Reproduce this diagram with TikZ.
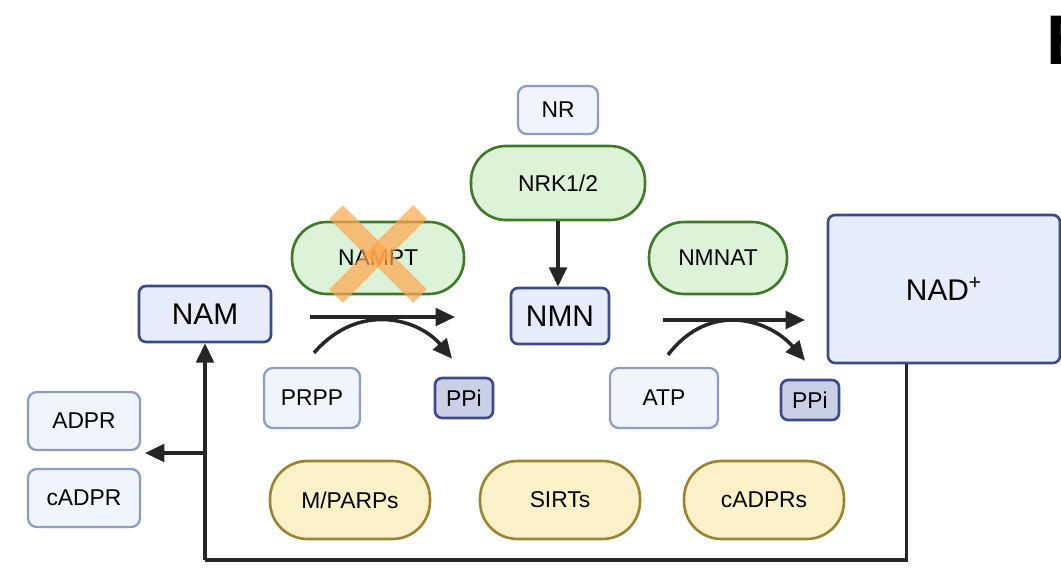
\documentclass[tikz,border=0pt]{standalone}
\usepackage{fontspec}
\setmainfont{Liberation Sans}
\usetikzlibrary{arrows.meta, positioning, calc}
\definecolor{boxblue}{HTML}{F0F4FC}
\definecolor{coreblue}{HTML}{E6ECFA}
\definecolor{boxedge}{HTML}{8C9CC4}
\definecolor{darkedge}{HTML}{3A4A8A}
\definecolor{ppifill}{HTML}{C9D0E6}
\definecolor{enzfill}{HTML}{DDF3D8}
\definecolor{enzedge}{HTML}{3F7A2A}
\definecolor{sinkfill}{HTML}{FBF1C8}
\definecolor{sinkedge}{HTML}{9A8430}
\tikzstyle{metab} = [rectangle, draw=boxedge, fill=boxblue, line width=1.3pt, rounded corners=5pt, text centered, font=\fontsize{13}{15}\selectfont]
\tikzstyle{core} = [rectangle, draw=darkedge, fill=coreblue, line width=1.5pt, rounded corners=4pt, text centered, font=\fontsize{17}{20}\selectfont]
\tikzstyle{ppi} = [rectangle, draw=darkedge, fill=ppifill, line width=1.5pt, rounded corners=4pt, minimum width=1.16cm, minimum height=0.8cm, font=\fontsize{13}{15}\selectfont]
\tikzstyle{enzyme} = [rectangle, draw=enzedge, fill=enzfill, line width=1.5pt, rounded corners=0.7cm, font=\fontsize{13}{15}\selectfont]
\tikzstyle{sink} = [rectangle, draw=sinkedge, fill=sinkfill, line width=1.5pt, rounded corners=0.75cm, minimum width=3.2cm, minimum height=1.56cm, font=\fontsize{13}{15}\selectfont]
\tikzstyle{flow} = [line width=2pt, -{Triangle[length=11pt, width=10pt]}, black!85]

\begin{document}
\begin{tikzpicture}[x=0.02cm, y=-0.02cm]
	\useasboundingbox (0,0) rectangle (1061,585);

	% Salvage route
	\node (nr) [metab, minimum width=1.6cm, minimum height=0.96cm] at (558,110) {NR};
	\node (nrk) [enzyme, minimum width=3.48cm, minimum height=1.48cm] at (558,183) {NRK1/2};
	\node (nmn) [core, minimum width=1.96cm, minimum height=1.12cm] at (560,316) {NMN};
	\node (nam) [core, minimum width=2.64cm, minimum height=1.12cm] at (205,314) {NAM};
	\node (nad) [core, minimum width=4.64cm, minimum height=2.96cm] at (944,289) {NAD\textsuperscript{+}};

	\node (nampt) [enzyme, minimum width=3.44cm, minimum height=1.44cm] at (378,258) {NAMPT};
	\node (nmnat) [enzyme, minimum width=2.76cm, minimum height=1.44cm] at (718,258) {NMNAT};

	% Co-substrates
	\node (prpp) [metab, minimum width=1.92cm, minimum height=1.2cm] at (312,398) {PRPP};
	\node (ppia) [ppi] at (464,398) {PPi};
	\node (atp) [metab, minimum width=2.16cm, minimum height=1.2cm] at (664,398) {ATP};
	\node (ppib) [ppi] at (810,400) {PPi};

	\node (adpr) [metab, minimum width=2.24cm, minimum height=1.16cm] at (84,421) {ADPR};
	\node (cadpr) [metab, minimum width=2.24cm, minimum height=1.16cm] at (84,498) {cADPR};

	% Consumers
	\node (parp) [sink] at (350,500) {M/PARPs};
	\node (sirt) [sink] at (560,500) {SIRTs};
	\node (cd38) [sink] at (764,500) {cADPRs};

	% Blocked enzyme
	\draw[orange!70, opacity=0.7, line width=11pt] ($(nampt)+(-42,-46)$) -- ($(nampt)+(42,38)$);
	\draw[orange!70, opacity=0.7, line width=11pt] ($(nampt)+(42,-46)$) -- ($(nampt)+(-42,38)$);

	% Reactions
	\coordinate (r1a) at (310,317);
	\coordinate (r1b) at (455,317);
	\coordinate (r2a) at (663,320);
	\coordinate (r2b) at (805,320);
	\draw[flow] (r1a) -- (r1b);
	\draw[flow] (r2a) -- (r2b);
	\draw[flow] ($(prpp.north)+(2,-14)$) .. controls (360,300) and (420,320) .. ($(ppia.north)+(-12,-18)$);
	\draw[flow] ($(atp.north)+(4,-12)$) .. controls (710,300) and (770,320) .. ($(ppib.north)+(-5,-18)$);
	\draw[flow] (nrk.south) -- (nrk.south |- nmn.north);

	% Recycling loop
	\coordinate (loopl) at (205,560);
	\coordinate (split) at (205,453);
	\coordinate (adprin) at (145,453);
	\draw[flow, -] ($(nad.south west)!0.34!(nad.south east)$) |- (loopl);
	\draw[flow] (loopl) -- (nam);
	\draw[flow] (split) -- (adprin);

	% Panel letter
	\node[font=\fontsize{40}{40}\selectfont\bfseries, anchor=west] at (1040,40) {B};
\end{tikzpicture}
\end{document}
